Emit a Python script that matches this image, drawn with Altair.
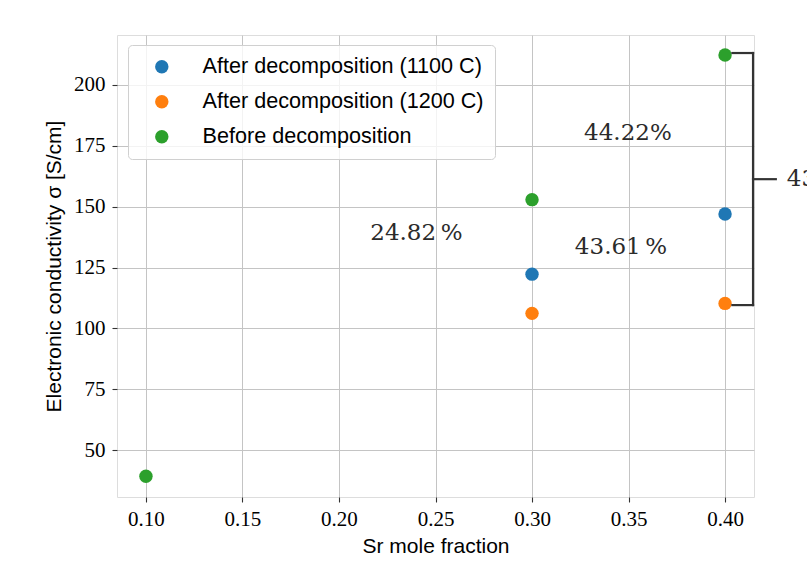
import altair as alt
import pandas as pd

# --- data ---
series_names = ["After decomposition (1100 C)", "After decomposition (1200 C)", "Before decomposition"]
series_colors = ["#1f77b4", "#ff7f0e", "#2ca02c"]

x_1100 = [0.30, 0.40]
y_1100 = [122.3, 147.0]
x_1200 = [0.30, 0.40]
y_1200 = [106.2, 110.3]
x_before = [0.10, 0.30, 0.40]
y_before = [39.3, 152.9, 212.3]

ann_text = ["24.82\u2009%", "43.61\u2009%", "44.22%"]
ann_x = [0.2401, 0.3461, 0.3497]
ann_y = [139.1, 133.5, 180.1]

bracket_x1 = [0.4038, 0.4145, 0.4038, 0.4145]
bracket_x2 = [0.4145, 0.4145, 0.4145, 0.4263]
bracket_y1 = [213.1, 213.1, 109.6, 161.3]
bracket_y2 = [213.1, 109.6, 109.6, 161.3]
bracket_label = ["43.9\u2009%"]
bracket_label_x = [0.4320]
bracket_label_y = [161.3]

x_ticks = [0.10, 0.15, 0.20, 0.25, 0.30, 0.35, 0.40]
y_ticks = [50, 75, 100, 125, 150, 175, 200]
x_domain = [0.085, 0.415]
y_domain = [30.8, 220.5]

# --- tables ---
rows = []
for name, xs, ys in zip(series_names, [x_1100, x_1200, x_before], [y_1100, y_1200, y_before]):
    for a, b in zip(xs, ys):
        rows.append({"sr": a, "sigma": b, "series": name})
points_df = pd.DataFrame(rows)
ann_df = pd.DataFrame({"label": ann_text, "x": ann_x, "y": ann_y})
br_df = pd.DataFrame({"x": bracket_x1, "x2": bracket_x2, "y": bracket_y1, "y2": bracket_y2})
brl_df = pd.DataFrame({"label": bracket_label, "x": bracket_label_x, "y": bracket_label_y})

xscale = alt.Scale(domain=x_domain, nice=False, zero=False)
yscale = alt.Scale(domain=y_domain, nice=False, zero=False)

x_axis = alt.Axis(values=x_ticks, format=".2f", title="Sr mole fraction",
                  labelFont="Liberation Serif", labelFontSize=21, labelColor="#000000",
                  titleFont="Liberation Sans", titleFontSize=21, titleFontWeight="normal",
                  titleColor="#000000", labelPadding=6, titlePadding=6,
                  tickSize=5, tickColor="#333333", tickWidth=1.1,
                  grid=True, gridColor="#c4c4c4", gridWidth=1.0, domain=False)
y_axis = alt.Axis(values=y_ticks, format="d", title="Electronic conductivity σ [S/cm]",
                  labelFont="Liberation Serif", labelFontSize=21, labelColor="#000000",
                  titleFont="Liberation Sans", titleFontSize=21, titleFontWeight="normal",
                  titleColor="#000000", labelPadding=7, titlePadding=9,
                  tickSize=5, tickColor="#333333", tickWidth=1.1,
                  grid=True, gridColor="#c4c4c4", gridWidth=1.0, domain=False)

points = alt.Chart(points_df).mark_circle(size=180, opacity=1).encode(
    x=alt.X("sr:Q", scale=xscale, axis=x_axis),
    y=alt.Y("sigma:Q", scale=yscale, axis=y_axis),
    color=alt.Color("series:N",
                    scale=alt.Scale(domain=series_names, range=series_colors),
                    legend=alt.Legend(title=None, orient="none", legendX=11, legendY=10,
                                      padding=11, symbolOffset=12, symbolSize=180,
                                      symbolType="circle", labelOffset=30,
                                      labelFont="Liberation Sans", labelFontSize=21.6,
                                      labelColor="#000000", rowPadding=12,
                                      strokeColor="#d0d0d0", cornerRadius=4,
                                      fillColor="rgba(255,255,255,0.8)",
                                      labelLimit=400)),
)

ann = alt.Chart(ann_df).mark_text(font="DejaVu Serif", fontSize=23, color="#2b2b2b",
                                  align="center", baseline="middle").encode(
    x=alt.X("x:Q", scale=xscale), y=alt.Y("y:Q", scale=yscale), text="label:N")

bracket = alt.Chart(br_df).mark_rule(color="#333333", strokeWidth=2.2, clip=False,
                                     strokeCap="square").encode(
    x=alt.X("x:Q", scale=xscale), x2="x2:Q",
    y=alt.Y("y:Q", scale=yscale), y2="y2:Q")

bracket_text = alt.Chart(brl_df).mark_text(font="DejaVu Serif", fontSize=23, color="#2b2b2b",
                                           align="left", baseline="middle", clip=False).encode(
    x=alt.X("x:Q", scale=xscale), y=alt.Y("y:Q", scale=yscale), text="label:N")

chart = alt.layer(points, ann, bracket, bracket_text).properties(
    width=637, height=462,
    autosize=alt.AutoSizeParams(type="none"),
    padding={"left": 117, "top": 35, "right": 53, "bottom": 79},
).configure_view(stroke="#333333", strokeWidth=1.2).configure(background="white")

chart.save("out.html", embed_options={"renderer": "svg", "actions": False})
